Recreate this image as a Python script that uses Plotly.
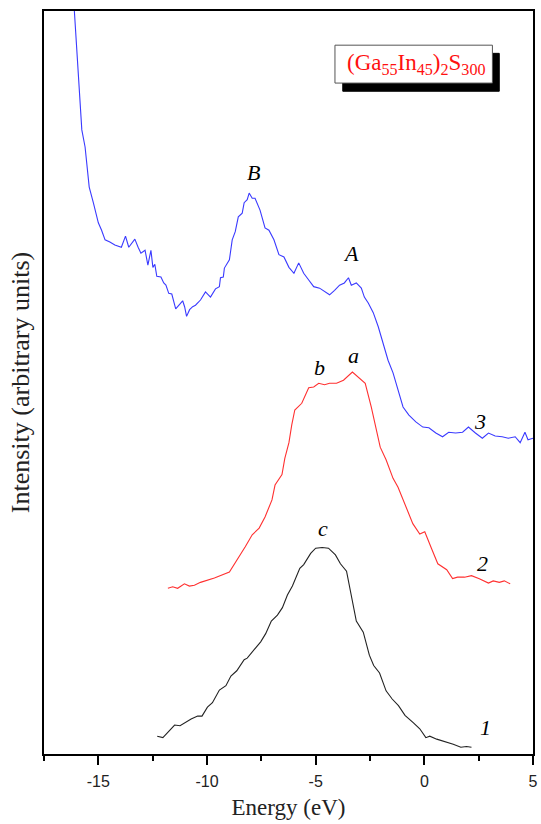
import plotly.graph_objects as go

# Curve 3 (blue)
e3 = [-16.12, -15.95, -15.76, -15.61, -15.42, -15.23, -15.00, -14.85, -14.69, -14.47,
      -14.24, -13.94, -13.75, -13.60, -13.32, -13.17, -13.04, -12.85, -12.72, -12.58,
      -12.49, -12.40, -12.31, -12.12, -11.99, -11.89, -11.76, -11.62, -11.44, -11.12,
      -11.03, -10.94, -10.80, -10.66, -10.53, -10.30, -10.07, -9.84, -9.61, -9.43,
      -9.38, -9.25, -9.20, -8.97, -8.84, -8.70, -8.56, -8.38, -8.29, -8.15,
      -8.06, -7.92, -7.79, -7.56, -7.33, -7.15, -6.92, -6.69, -6.46, -6.23,
      -6.00, -5.78, -5.55, -5.32, -5.09, -4.82, -4.59, -4.36, -4.13, -3.90,
      -3.68, -3.49, -3.36, -3.13, -2.90, -2.76, -2.58, -2.35, -2.12, -1.89,
      -1.67, -1.44, -1.21, -0.98, -0.71, -0.39, -0.07, 0.21, 0.53, 0.84,
      1.12, 1.44, 1.76, 2.03, 2.35, 2.67, 2.95, 3.26, 3.58, 3.86,
      4.18, 4.41, 4.63, 4.77, 5.00]
i3 = [100.8, 93.4, 84.0, 81.7, 76.3, 74.2, 71.5, 70.5, 69.2, 68.9,
      68.5, 68.2, 69.7, 68.2, 69.3, 68.2, 67.4, 67.8, 65.8, 67.8,
      65.5, 65.9, 64.3, 64.2, 63.4, 63.1, 62.0, 61.9, 59.9, 61.0,
      60.2, 58.9, 59.8, 60.2, 60.4, 61.1, 62.2, 61.5, 62.6, 62.9,
      64.1, 64.2, 65.4, 66.5, 69.2, 70.3, 72.3, 72.8, 74.2, 74.6,
      75.5, 74.8, 74.8, 73.2, 70.8, 70.5, 69.2, 67.2, 66.9, 65.5,
      64.7, 66.1, 64.7, 63.8, 62.9, 62.7, 62.2, 61.8, 62.4, 63.1,
      63.4, 64.1, 63.1, 63.4, 62.7, 61.5, 60.7, 59.4, 57.5, 55.3,
      53.0, 51.3, 49.0, 46.7, 45.6, 44.7, 44.0, 43.9, 43.2, 42.7,
      43.3, 43.2, 43.3, 44.0, 43.2, 42.5, 43.2, 42.8, 42.7, 42.5,
      42.7, 41.9, 43.3, 42.3, 42.5]

# Curve 2 (red)
e2 = [-11.80, -11.58, -11.35, -11.04, -10.81, -10.58, -10.30, -9.66, -8.97, -8.61,
      -8.24, -7.92, -7.60, -7.33, -7.01, -6.87, -6.55, -6.42, -6.23, -6.10,
      -5.96, -5.64, -5.32, -5.09, -4.86, -4.59, -4.36, -4.04, -3.72, -3.31,
      -2.72, -2.44, -2.03, -1.76, -1.44, -1.21, -0.89, -0.53, -0.21, 0.02,
      0.34, 0.62, 1.03, 1.30, 1.53, 1.85, 2.17, 2.53, 2.95, 3.17,
      3.45, 3.68, 3.95]
i2 = [22.3, 22.5, 22.3, 22.9, 22.6, 22.7, 23.1, 23.7, 24.5, 26.1,
      27.9, 29.5, 30.4, 31.9, 34.2, 36.2, 37.6, 39.8, 41.9, 44.3,
      46.3, 47.2, 49.3, 49.4, 49.9, 49.7, 49.9, 49.9, 50.3, 51.4,
      49.9, 46.7, 41.3, 39.6, 37.1, 35.9, 33.5, 31.0, 29.6, 29.9,
      27.6, 25.6, 24.8, 23.6, 23.8, 23.8, 24.0, 23.6, 23.0, 23.3,
      23.1, 23.3, 22.9]

# Curve 1 (black)
e1 = [-12.29, -12.03, -11.49, -11.24, -10.73, -10.43, -10.23, -9.98, -9.75, -9.43,
      -9.13, -8.90, -8.63, -8.29, -8.15, -7.83, -7.53, -7.30, -7.04, -6.76,
      -6.53, -6.30, -6.07, -5.73, -5.55, -5.23, -5.00, -4.70, -4.41, -4.09,
      -3.86, -3.58, -3.36, -3.13, -2.81, -2.53, -2.33, -2.06, -1.76, -1.48,
      -1.19, -0.89, -0.50, -0.21, 0.07, 0.25, 0.57, 1.03, 1.33, 1.68,
      1.94, 2.17]
i1 = [2.4, 2.2, 3.9, 3.8, 4.7, 5.1, 5.1, 6.3, 6.9, 8.6,
      9.2, 10.5, 11.2, 12.7, 12.9, 14.1, 15.1, 16.2, 17.9, 18.7,
      19.7, 21.4, 22.6, 25.0, 25.5, 27.0, 27.7, 27.8, 27.7, 26.8,
      25.6, 24.6, 21.1, 17.9, 16.4, 13.3, 11.9, 10.9, 8.5, 7.4,
      6.5, 5.2, 4.2, 3.4, 2.2, 2.4, 2.0, 1.6, 1.3, 0.9,
      1.0, 0.9]

# Peak / curve labels
label_text = ["B", "A", "b", "a", "c", "3", "2", "1"]
label_e = [-7.88, -3.36, -4.81, -3.26, -4.68, 2.58, 2.67, 2.81]
label_i = [78.2, 67.4, 52.0, 53.7, 30.4, 44.8, 25.7, 3.6]

x_ticks = [-15, -10, -5, 0, 5]

fig = go.Figure()
fig.add_trace(go.Scatter(x=e3, y=i3, mode="lines", line=dict(color="#3a3aff", width=1.1), showlegend=False))
fig.add_trace(go.Scatter(x=e2, y=i2, mode="lines", line=dict(color="#ff3030", width=1.1), showlegend=False))
fig.add_trace(go.Scatter(x=e1, y=i1, mode="lines", line=dict(color="#222222", width=1.1), showlegend=False))

for t, xe, yi in zip(label_text, label_e, label_i):
    fig.add_annotation(x=xe, y=yi, text=t, showarrow=False,
                       font=dict(family="Liberation Serif", size=22, color="black", style="italic"),
                       xanchor="center", yanchor="middle")

# Legend-like box with shadow
fig.add_shape(type="rect", xref="paper", yref="paper", x0=0.611, x1=0.931, y0=0.892, y1=0.943,
              fillcolor="black", line=dict(color="black", width=1))
fig.add_shape(type="rect", xref="paper", yref="paper", x0=0.595, x1=0.917, y0=0.903, y1=0.954,
              fillcolor="white", line=dict(color="#555555", width=1))
fig.add_annotation(xref="paper", yref="paper", x=0.761, y=0.929, showarrow=False,
                   text="(Ga<sub>55</sub>In<sub>45</sub>)<sub>2</sub>S<sub>300</sub>",
                   font=dict(family="Liberation Serif", size=23, color="#ff1010"),
                   xanchor="center", yanchor="middle")

fig.update_xaxes(range=[-17.5, 5], tickvals=x_ticks, ticktext=[str(v) for v in x_ticks],
                 ticks="outside", ticklen=9, tickwidth=2, tickcolor="black",
                 ticklabelstandoff=3,
                 minor=dict(dtick=2.5, tick0=0, ticks="outside", ticklen=5, tickwidth=2, tickcolor="black"),
                 showline=True, linewidth=2, linecolor="black", mirror=True,
                 showgrid=False, zeroline=False,
                 tickfont=dict(family="Liberation Sans", size=16, color="#222"),
                 title=dict(text="Energy (eV)", font=dict(family="Liberation Serif", size=23, color="#222"),
                            standoff=10))
fig.update_yaxes(range=[0, 100], showticklabels=False, ticks="",
                 showline=True, linewidth=2, linecolor="black", mirror=True,
                 showgrid=False, zeroline=False,
                 title=dict(text="Intensity (arbitrary units)",
                            font=dict(family="Liberation Serif", size=26, color="#222"), standoff=5))

fig.update_layout(width=541, height=824, margin=dict(l=44, r=3, t=11, b=70),
                  plot_bgcolor="white", paper_bgcolor="white")

fig.write_html("out.html")
